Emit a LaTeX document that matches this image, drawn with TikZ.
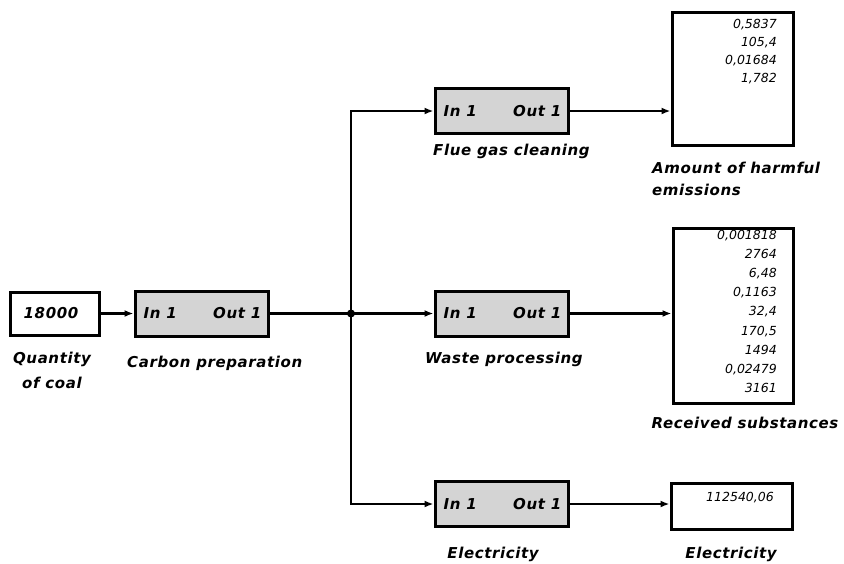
\documentclass[tikz,border=0pt]{standalone}
\usepackage{fontspec}
\setmainfont{DejaVu Sans}
\newfontfamily\lblfont[LetterSpace=4]{DejaVu Sans}
\usetikzlibrary{arrows.meta}
\begin{document}
\begin{tikzpicture}[x=1pt,y=-1pt,
  lbl/.style={font=\lblfont\bfseries\itshape\fontsize{15}{17}\selectfont, inner sep=0pt},
  boxtxt/.style={font=\lblfont\bfseries\itshape\fontsize{15}{17}\selectfont, inner sep=0pt},
  vals/.style={font=\itshape\fontsize{12.5}{14}\selectfont, inner sep=0pt},
  procbox/.style={draw, line width=3pt, fill=black!17, minimum width=133pt, minimum height=45pt, inner sep=0pt},
  valbox/.style={draw, line width=3pt, fill=white, inner sep=0pt},
  arr/.style={line width=2.8pt, -{Latex[length=9pt,width=7pt]}},
  ln/.style={line width=2.8pt}]
\useasboundingbox (0,0) rectangle (844,563);

% source box
\node[valbox, minimum width=89pt, minimum height=43pt] (coal) at (54.5,313.5) {};
\node[boxtxt] (coalv) at (51,313.5) {18000};

% process boxes
\node[procbox] (carb) at (201.5,313.5) {};
\node[procbox] (flue) at (501.5,111) {};
\node[procbox] (waste) at (501.5,313.5) {};
\node[procbox] (elec) at (501.5,504) {};
\foreach \b in {carb,flue,waste,elec}{
  \node[boxtxt, anchor=west] (\b-in) at ([xshift=10pt]\b.west) {In 1};
  \node[boxtxt, anchor=east] (\b-out) at ([xshift=-8pt]\b.east) {Out 1};
}

% output boxes
\node[valbox, minimum width=121pt, minimum height=133pt] (emis) at (732.5,78.5) {};
\node[valbox, minimum width=120pt, minimum height=175pt] (recv) at (733,315.5) {};
\node[valbox, minimum width=121pt, minimum height=46pt] (eout) at (731.5,506) {};

% values
\foreach \v [count=\i] in {{0,5837},{105,4},{0,01684},{1,782}}
  \node[vals, anchor=base east] (ev\i) at (777,{28+18.3*(\i-1)}) {\v};
\foreach \v [count=\i] in {{0,001818},{2764},{6,48},{0,1163},{32,4},{170,5},{1494},{0,02479},{3161}}
  \node[vals, anchor=base east] (rv\i) at (777,{239+19.2*(\i-1)}) {\v};
\node[vals, anchor=base east] (elv) at (774,501) {112540,06};

% connectors
\coordinate (J) at (351,313.5);
\draw[arr] (coal) -- (carb);
\draw[ln] (carb.east) -- (J);
\fill (J) circle (4pt);
\draw[arr] (J) -- (waste.west);
\draw[arr] (J) |- (flue.west);
\draw[arr] (J) |- (elec.west);
\draw[arr] (flue.east) -- (flue.east -| emis.west);
\draw[arr] (waste.east) -- (waste.east -| recv.west);
\draw[arr] (elec.east) -- (elec.east -| eout.west);

% labels
\node[lbl, anchor=base] (l1) at (52,363) {Quantity};
\node[lbl, anchor=base] (l2) at (52,388) {of coal};
\node[lbl, anchor=base west] (l3) at (127,367) {Carbon preparation};
\node[lbl, anchor=base west] (l4) at (433,155) {Flue gas cleaning};
\node[lbl, anchor=base west] (l5) at (652,173) {Amount of harmful};
\node[lbl, anchor=base west] (l6) at (652,195) {emissions};
\node[lbl, anchor=base west] (l7) at (425,363) {Waste processing};
\node[lbl, anchor=base] (l8) at (745,428) {Received substances};
\node[lbl, anchor=base] (l9) at (493,558) {Electricity};
\node[lbl, anchor=base] (l10) at (731,558) {Electricity};
\end{tikzpicture}
\end{document}
